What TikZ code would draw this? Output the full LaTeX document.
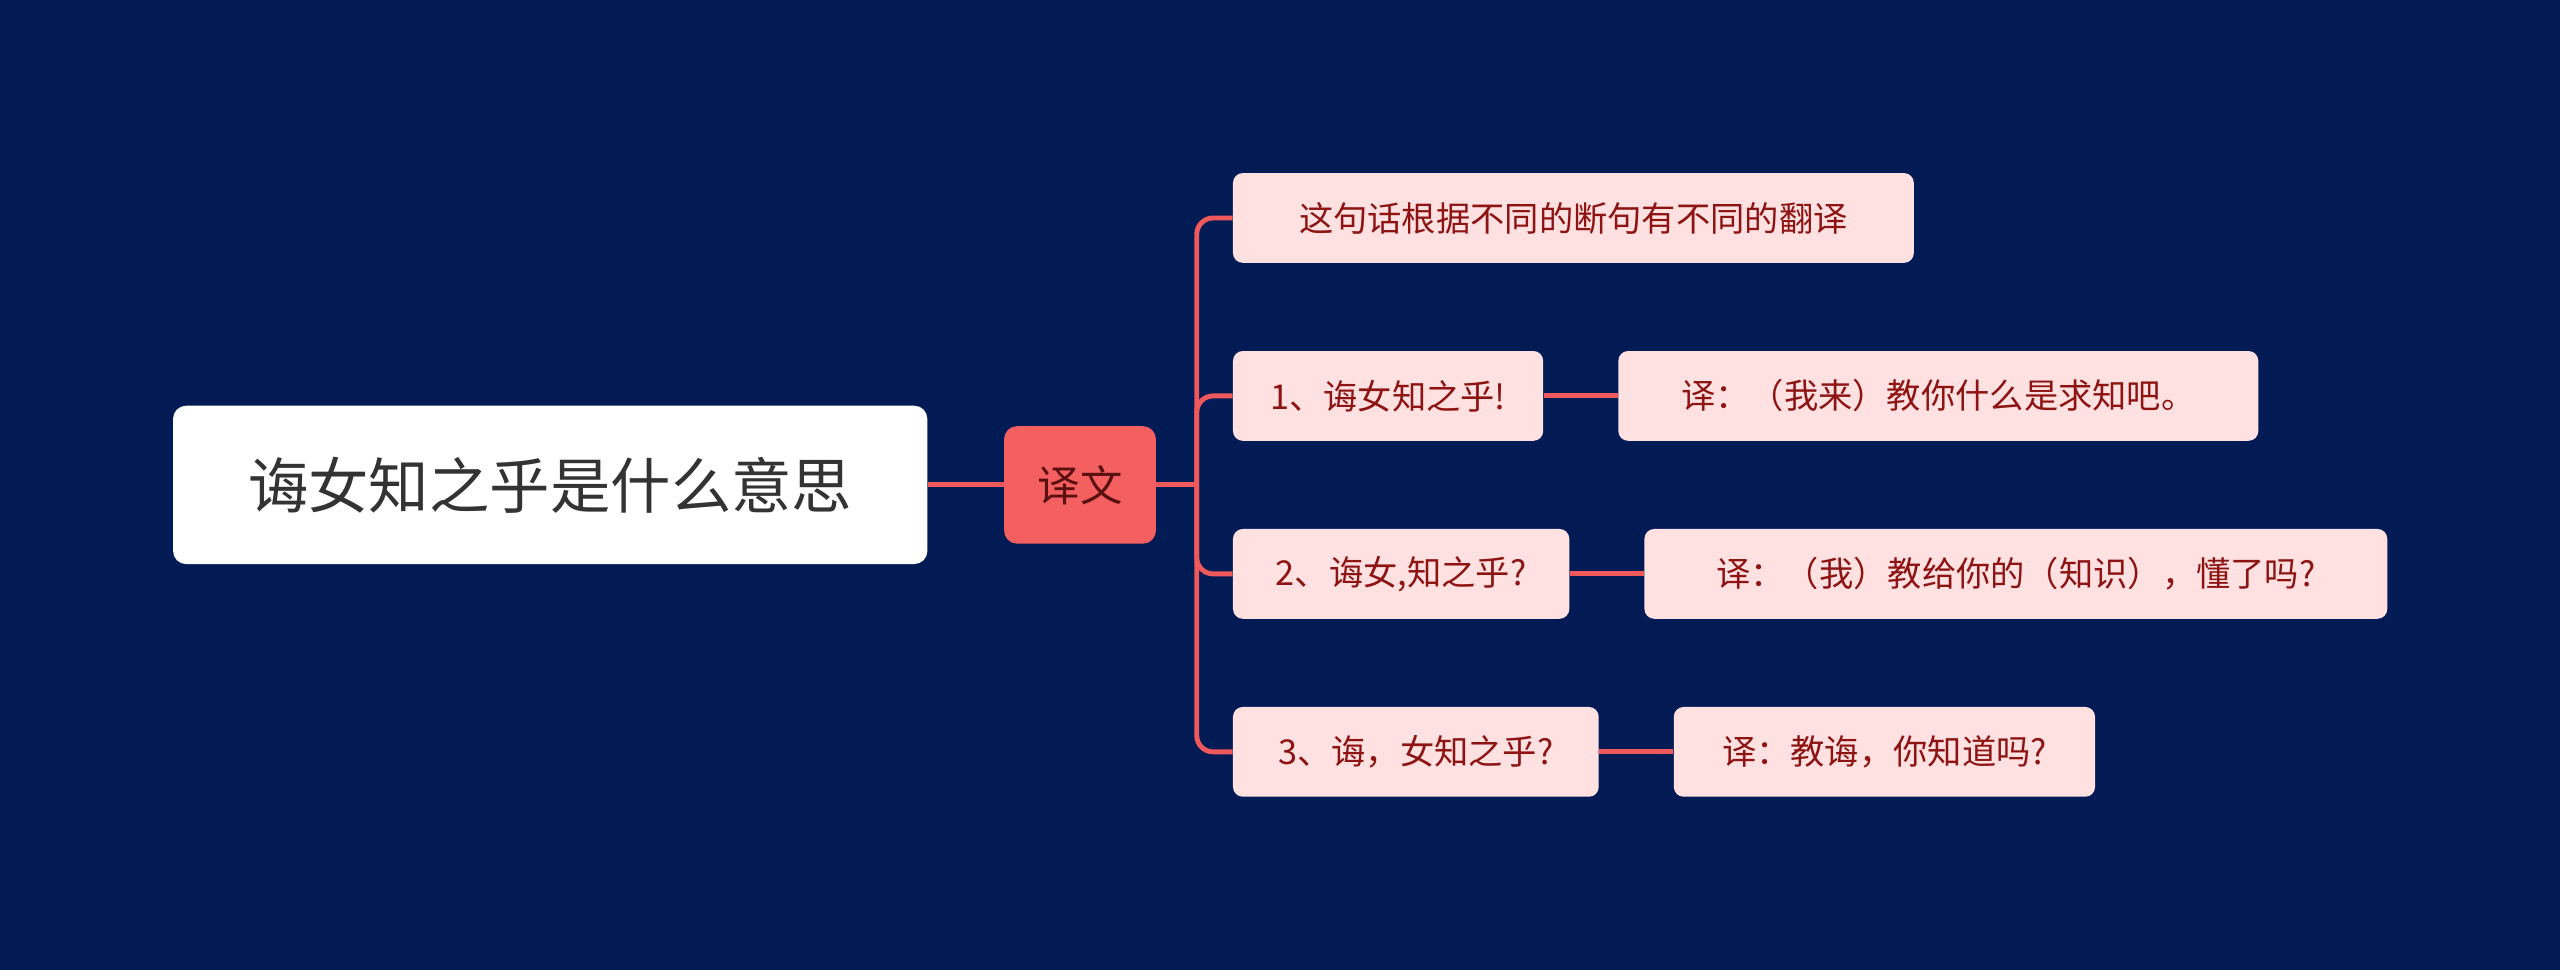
\documentclass[tikz,border=0pt]{standalone}
\usepackage{fontspec}
\setmainfont{Noto Sans CJK SC}
\definecolor{bg}{HTML}{021B55}
\definecolor{ln}{HTML}{F0595B}
\definecolor{kid}{HTML}{FFE1E1}
\definecolor{kidtxt}{HTML}{8E1414}
\definecolor{mid}{HTML}{F45F5F}
\tikzset{
 kidbox/.style={fill=kid,rounded corners=6pt,text=kidtxt,font=\fontsize{21}{24}\selectfont,anchor=west,minimum height=55pt,inner xsep=12pt},
 conn/.style={draw=ln,line width=3pt}
}
\begin{document}
\begin{tikzpicture}[x=1pt,y=-1pt]
\fill[bg] (0,0) rectangle (1568,594);
\useasboundingbox (0,0) rectangle (1568,594);
\node[fill=white,rounded corners=8pt,minimum width=462pt,minimum height=97pt,text={rgb,255:red,51;green,51;blue,51},font=\fontsize{37}{42}\selectfont] (root) at (337,297) {诲女知之乎是什么意思};
\node[fill=mid,rounded corners=8pt,minimum width=93pt,minimum height=72pt,text={rgb,255:red,90;green,16;blue,16},font=\fontsize{26}{30}\selectfont] (c) at (661.5,297) {译文};
\node[kidbox,minimum width=417pt] (k1) at (755,133.5) {这句话根据不同的断句有不同的翻译};
\node[kidbox,minimum width=190pt] (k2) at (755,242.5) {1、诲女知之乎!};
\node[kidbox,minimum width=206pt] (k3) at (755,351.5) {2、诲女,知之乎?};
\node[kidbox,minimum width=224pt] (k4) at (755,460.5) {3、诲，女知之乎?};
\node[kidbox,minimum width=392pt] (g2) at (991,242.5) {译：（我来）教你什么是求知吧。};
\node[kidbox,minimum width=455pt] (g3) at (1007,351.5) {译：（我）教给你的（知识），懂了吗?};
\node[kidbox,minimum width=258pt] (g4) at (1025,460.5) {译：教诲，你知道吗?};
\coordinate (j) at (733,297);
\draw[conn] (root.east) -- (c.west);
\draw[conn] (c.east) -- (j);
\foreach \k in {k1,k2,k3,k4} \draw[conn,rounded corners=10pt] (j) |- (\k.west);
\draw[conn] (k2.east) -- (g2.west);
\draw[conn] (k3.east) -- (g3.west);
\draw[conn] (k4.east) -- (g4.west);
\end{tikzpicture}
\end{document}
